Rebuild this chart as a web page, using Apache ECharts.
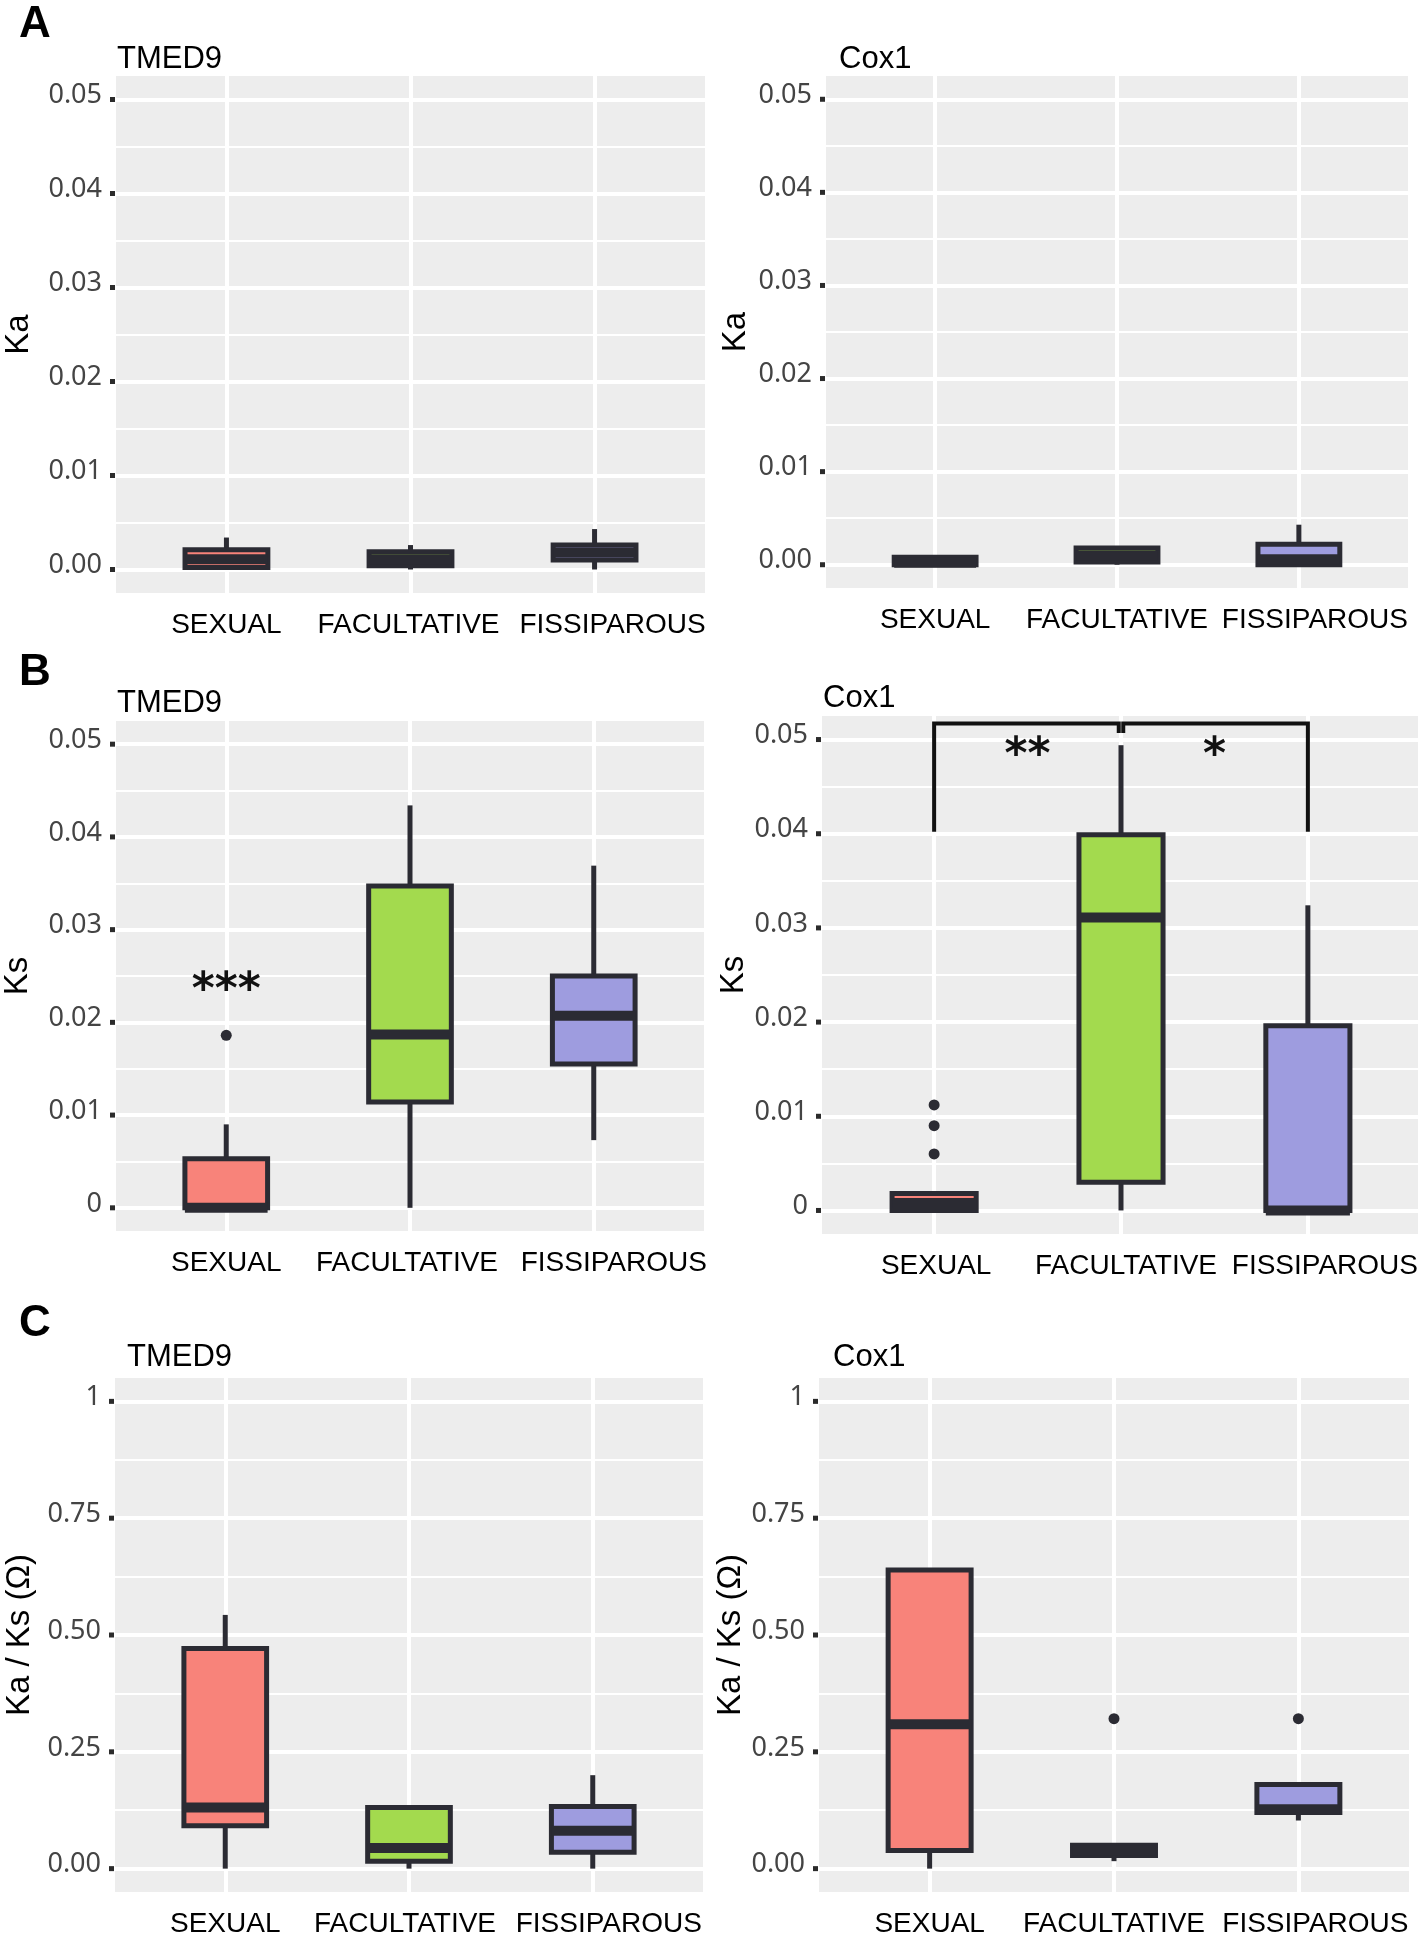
<!DOCTYPE html>
<html>
<head>
<meta charset="utf-8">
<script src="https://cdn.jsdelivr.net/npm/echarts@6/dist/echarts.min.js"></script>
<style>
html, body { margin: 0; padding: 0; background: #ffffff; }
#chart { width: 1418px; height: 1933px; }
</style>
</head>
<body>
<div id="chart"></div>
<script>
// ---------------- data ----------------
const categories = ['SEXUAL', 'FACULTATIVE', 'FISSIPAROUS'];
const categoryPositions = [1, 2, 3];
const boxFill = ['#F8837A', '#A3DA4E', '#9E9CDF'];

// [lower whisker, Q1, median, Q3, upper whisker] per category
const kaTMED9 = [
  [0, 0.0002, 0.0011, 0.0021, 0.0034],
  [0, 0.0004, 0.0011, 0.0019, 0.0026],
  [0, 0.0010, 0.0018, 0.0026, 0.0043]
];
const kaCox1 = [
  [0, 0, 0.0002, 0.0008, 0.0008],
  [0, 0.0003, 0.0010, 0.0018, 0.0018],
  [0, 0, 0.0006, 0.0022, 0.0043]
];
const ksTMED9 = [
  [0, 0, 0, 0.0053, 0.0090],
  [0, 0.0114, 0.0187, 0.0347, 0.0434],
  [0.0073, 0.0155, 0.0207, 0.0250, 0.0369]
];
const ksCox1 = [
  [0, 0, 0.0008, 0.0018, 0.0019],
  [0, 0.0030, 0.0311, 0.0399, 0.0494],
  [0, 0, 0, 0.0196, 0.0324]
];
const omegaTMED9 = [
  [0, 0.092, 0.131, 0.471, 0.543],
  [0, 0.016, 0.044, 0.131, 0.135],
  [0, 0.035, 0.081, 0.133, 0.200]
];
const omegaCox1 = [
  [0, 0.039, 0.309, 0.639, 0.643],
  [0.016, 0.028, 0.039, 0.050, 0.050],
  [0.103, 0.120, 0.127, 0.180, 0.180]
];

// outliers: [category position, value]
const ksTMED9Outliers = [[1, 0.0186]];
const ksCox1Outliers = [[1, 0.0060], [1, 0.0090], [1, 0.0112]];
const omegaCox1Outliers = [[2, 0.321], [3, 0.321]];

// significance annotations
const ksTMED9Stars = [[1, 0.0244]];
const ksTMED9StarText = ['***'];
const ksCox1Brackets = [
  [[1, 0.0402], [1, 0.0517], [1.988, 0.0517], [1.988, 0.0507]],
  [[2.012, 0.0507], [2.012, 0.0517], [3, 0.0517], [3, 0.0402]]
];
const ksCox1Stars = [[1.5, 0.0493], [2.5, 0.0493]];
const ksCox1StarText = ['**', '*'];

// axes
const xLimits = [0.4, 3.6];
const xStep = 0.2;
const kaLimits = [-0.0025, 0.0525];
const kaStep = 0.0025;
const kaTicks = [0, 0.01, 0.02, 0.03, 0.04, 0.05];
const kaTickLabels = ['0.00', '0.01', '0.02', '0.03', '0.04', '0.05'];
const kaMinorTicks = [0.005, 0.015, 0.025, 0.035, 0.045];
const ksLimits = [-0.0025, 0.0525];
const ksStep = 0.0025;
const ksTicks = [0, 0.01, 0.02, 0.03, 0.04, 0.05];
const ksTickLabels = ['0', '0.01', '0.02', '0.03', '0.04', '0.05'];
const ksMinorTicks = [0.005, 0.015, 0.025, 0.035, 0.045];
const omegaLimits = [-0.05, 1.05];
const omegaStep = 0.025;
const omegaTicks = [0, 0.25, 0.5, 0.75, 1];
const omegaTickLabels = ['0.00', '0.25', '0.50', '0.75', '1'];
const omegaMinorTicks = [0.125, 0.375, 0.625, 0.875];

// ---------------- style / layout ----------------
const SANS = 'Liberation Sans';
const TICK_FONT = 'Noto Sans';
const LINE = '#2b2b33';
const PANEL_BG = '#EDEDED';
const NONE = 'rgba(0,0,0,0)';
const BOX_WIDTH = 0.45;
const BOX_LINE_W = 5;
const WHISKER_W = 5;
const MEDIAN_W = 10;
const STAR_DY = 10;

const layout = [
  { left: 116, top: 76, width: 589, height: 517, nameGap: 81, titleLeft: 117, titleTop: 44, labelShift: [0, -2, 18] },
  { left: 826, top: 76, width: 582, height: 512, nameGap: 74, titleLeft: 839, titleTop: 44, labelShift: [0, 0, 16] },
  { left: 116, top: 721, width: 588, height: 510, nameGap: 82, titleLeft: 117, titleTop: 688, labelShift: [0, -3, 20] },
  { left: 822, top: 716, width: 598, height: 518, nameGap: 70, titleLeft: 823, titleTop: 683, labelShift: [2, 5, 17] },
  { left: 115, top: 1378, width: 588, height: 514, nameGap: 79, titleLeft: 127, titleTop: 1342, labelShift: [0, -4, 16] },
  { left: 819, top: 1378, width: 590, height: 514, nameGap: 68, titleLeft: 833, titleTop: 1342, labelShift: [0, 0, 17] }
];
const letters = [
  { text: 'A', left: 19, top: 3 },
  { text: 'B', left: 19, top: 651 },
  { text: 'C', left: 19, top: 1302 }
];

const scales = {
  ka: { limits: kaLimits, step: kaStep, ticks: kaTicks, labels: kaTickLabels, minor: kaMinorTicks },
  ks: { limits: ksLimits, step: ksStep, ticks: ksTicks, labels: ksTickLabels, minor: ksMinorTicks },
  omega: { limits: omegaLimits, step: omegaStep, ticks: omegaTicks, labels: omegaTickLabels, minor: omegaMinorTicks }
};

const panels = [
  { title: 'TMED9', yName: 'Ka', scale: 'ka', boxes: kaTMED9, outliers: [] },
  { title: 'Cox1', yName: 'Ka', scale: 'ka', boxes: kaCox1, outliers: [] },
  { title: 'TMED9', yName: 'Ks', scale: 'ks', boxes: ksTMED9, outliers: ksTMED9Outliers,
    stars: ksTMED9Stars, starText: ksTMED9StarText },
  { title: 'Cox1', yName: 'Ks', scale: 'ks', boxes: ksCox1, outliers: ksCox1Outliers,
    stars: ksCox1Stars, starText: ksCox1StarText, brackets: ksCox1Brackets },
  { title: 'TMED9', yName: 'Ka / Ks (\u03A9)', scale: 'omega', boxes: omegaTMED9, outliers: [] },
  { title: 'Cox1', yName: 'Ka / Ks (\u03A9)', scale: 'omega', boxes: omegaCox1, outliers: omegaCox1Outliers }
];

// ---------------- helpers ----------------
function near(a, b) { return Math.abs(a - b) < 1e-9; }
function tickSeq(limits, step) {
  const n = Math.round((limits[1] - limits[0]) / step);
  const out = [];
  for (let k = 0; k <= n; k++) out.push(limits[0] + k * step);
  return out;
}
function colorsFor(limits, step, marks) {
  return tickSeq(limits, step).map(t => marks.some(m => near(m, t)) ? '#ffffff' : NONE);
}

function renderBox(params, api) {
  const x = api.value(0);
  const pLo = api.coord([x, api.value(1)]);
  const pQ1 = api.coord([x, api.value(2)]);
  const pMd = api.coord([x, api.value(3)]);
  const pQ3 = api.coord([x, api.value(4)]);
  const pHi = api.coord([x, api.value(5)]);
  const half = api.size([1, 0])[0] * BOX_WIDTH / 2;
  const cx = pQ1[0];
  return {
    type: 'group',
    children: [
      { type: 'line', shape: { x1: cx, y1: pQ1[1], x2: cx, y2: pLo[1] }, style: { stroke: LINE, lineWidth: WHISKER_W } },
      { type: 'line', shape: { x1: cx, y1: pQ3[1], x2: cx, y2: pHi[1] }, style: { stroke: LINE, lineWidth: WHISKER_W } },
      { type: 'rect', shape: { x: cx - half, y: pQ3[1], width: 2 * half, height: pQ1[1] - pQ3[1] },
        style: { fill: boxFill[params.dataIndex], stroke: LINE, lineWidth: BOX_LINE_W, lineJoin: 'miter' } },
      { type: 'line', shape: { x1: cx - half, y1: pMd[1], x2: cx + half, y2: pMd[1] }, style: { stroke: LINE, lineWidth: MEDIAN_W } }
    ]
  };
}

function makeTextRenderer(texts) {
  return function (params, api) {
    const p = api.coord([api.value(0), api.value(1)]);
    return {
      type: 'text', x: p[0], y: p[1] + STAR_DY,
      style: { text: texts[params.dataIndex], fill: '#111111', font: 'bold 44px "DejaVu Sans"',
               align: 'center', verticalAlign: 'middle', textAlign: 'center', textVerticalAlign: 'middle' }
    };
  };
}

// ---------------- option ----------------
const grids = [], xAxes = [], yAxes = [], series = [], titles = [];

letters.forEach(l => titles.push({
  text: l.text, left: l.left, top: l.top, padding: 0,
  textStyle: { fontFamily: SANS, fontSize: 44, fontWeight: 'bold', color: '#000' }
}));

panels.forEach((pnl, i) => {
  const L = layout[i];
  const sc = scales[pnl.scale];
  grids.push({ left: L.left, top: L.top, width: L.width, height: L.height, show: true,
               backgroundColor: PANEL_BG, borderWidth: 0, containLabel: false, outerBoundsMode: 'none' });
  titles.push({ text: pnl.title, left: L.titleLeft, top: L.titleTop, padding: 0,
                textStyle: { fontFamily: SANS, fontSize: 31, fontWeight: 'normal', color: '#000' } });

  const xRich = {};
  categories.forEach((c, k) => {
    const s = L.labelShift[k];
    xRich['c' + k] = { fontFamily: SANS, fontSize: 28, color: '#000',
                       padding: [0, s < 0 ? -2 * s : 0, 0, s > 0 ? 2 * s : 0] };
  });
  xAxes.push({
    gridIndex: i, type: 'value', min: xLimits[0], max: xLimits[1], interval: xStep,
    axisLine: { show: false }, axisTick: { show: false },
    splitLine: { show: true, showMinLine: true, showMaxLine: true,
                 lineStyle: { color: colorsFor(xLimits, xStep, categoryPositions), width: 4 } },
    axisLabel: {
      margin: 18, fontFamily: SANS, fontSize: 28, color: '#000',
      formatter: v => { const k = categoryPositions.findIndex(p => near(p, v)); return k >= 0 ? '{c' + k + '|' + categories[k] + '}' : ''; },
      rich: xRich
    }
  });

  yAxes.push({
    gridIndex: i, type: 'value', position: 'left', min: sc.limits[0], max: sc.limits[1], interval: sc.step,
    axisLine: { show: false }, axisTick: { show: false },
    splitLine: { show: true, showMinLine: true, showMaxLine: true,
                 lineStyle: { color: colorsFor(sc.limits, sc.step, sc.ticks), width: 4 } },
    axisLabel: {
      margin: 1,
      formatter: v => { const k = sc.ticks.findIndex(t => near(t, v)); return k >= 0 ? '{v|' + sc.labels[k] + '}{s|}{t|}' : ''; },
      rich: {
        v: { fontFamily: TICK_FONT, fontSize: 27, color: '#444444', lineHeight: 30, padding: [0, 0, 8, 0] },
        s: { width: 8 },
        t: { width: 5, height: 5, backgroundColor: '#2b2b2b', verticalAlign: 'middle' }
      }
    },
    name: pnl.yName, nameLocation: 'middle', nameGap: L.nameGap,
    nameTextStyle: { fontFamily: SANS, fontSize: 33, color: '#000' }
  });
  yAxes.push({
    gridIndex: i, type: 'value', position: 'left', min: sc.limits[0], max: sc.limits[1], interval: sc.step,
    axisLine: { show: false }, axisTick: { show: false }, axisLabel: { show: false },
    splitLine: { show: true, showMinLine: true, showMaxLine: true,
                 lineStyle: { color: colorsFor(sc.limits, sc.step, sc.minor), width: 2 } }
  });

  const yMain = yAxes.length - 2;
  series.push({
    type: 'custom', xAxisIndex: i, yAxisIndex: yMain, silent: true, z: 3,
    renderItem: renderBox,
    encode: { x: 0, y: [1, 2, 3, 4, 5] },
    data: pnl.boxes.map((b, k) => [categoryPositions[k]].concat(b))
  });
  if (pnl.outliers.length) {
    series.push({
      type: 'scatter', xAxisIndex: i, yAxisIndex: yMain, silent: true, z: 4,
      symbol: 'circle', symbolSize: 11, itemStyle: { color: LINE, opacity: 1 },
      data: pnl.outliers
    });
  }
  if (pnl.brackets) {
    pnl.brackets.forEach(br => series.push({
      type: 'line', xAxisIndex: i, yAxisIndex: yMain, silent: true, z: 5,
      symbol: 'none', clip: false,
      lineStyle: { color: '#111111', width: 4, join: 'miter', cap: 'butt' },
      data: br
    }));
  }
  if (pnl.stars) {
    series.push({
      type: 'custom', xAxisIndex: i, yAxisIndex: yMain, silent: true, z: 6,
      renderItem: makeTextRenderer(pnl.starText),
      encode: { x: 0, y: 1 },
      data: pnl.stars
    });
  }
});

const option = {
  backgroundColor: '#ffffff',
  animation: false,
  title: titles,
  grid: grids,
  xAxis: xAxes,
  yAxis: yAxes,
  series: series
};

const chart = echarts.init(document.getElementById('chart'), null, { renderer: 'canvas' });
chart.setOption(option);
</script>
</body>
</html>
